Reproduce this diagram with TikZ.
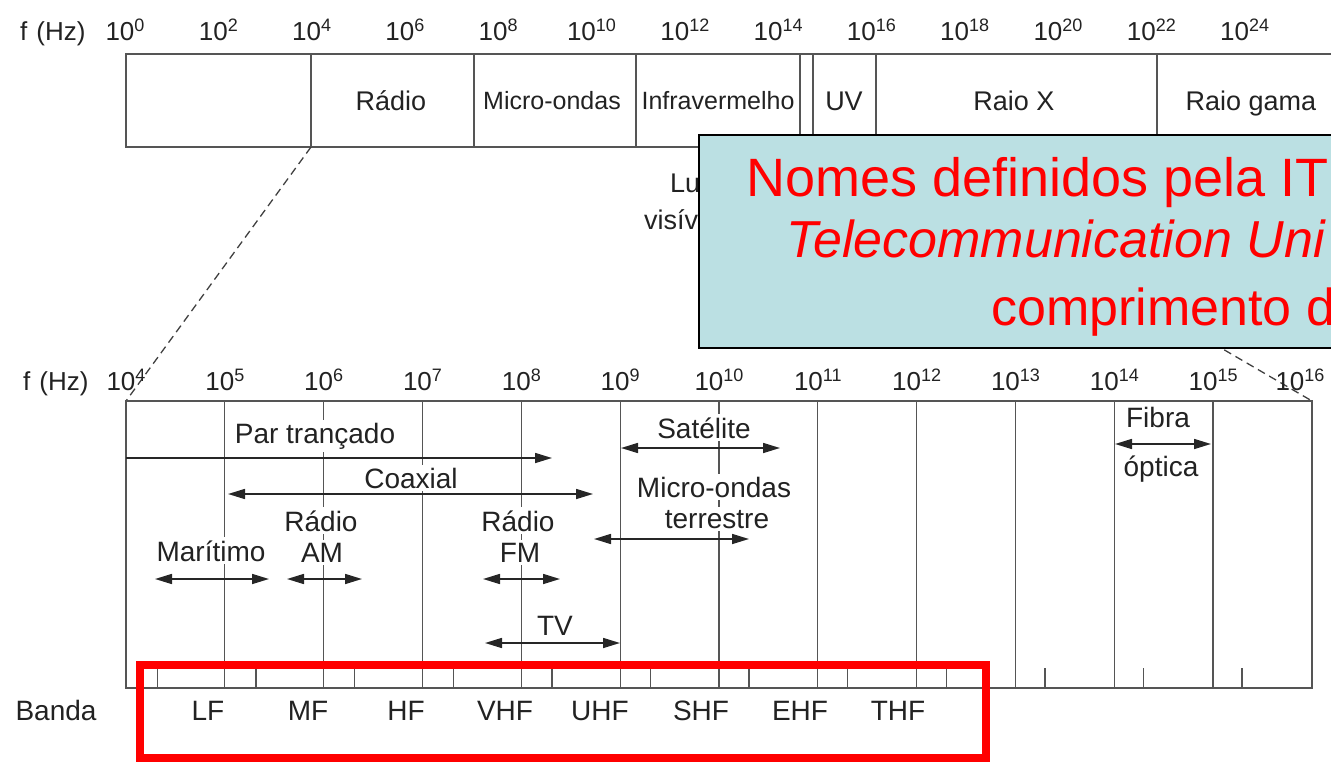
\documentclass[tikz,border=0pt]{standalone}
\usepackage{fontspec}
\setmainfont{Liberation Sans}
\usetikzlibrary{arrows.meta}
\definecolor{txt}{HTML}{222222}
\definecolor{ln}{HTML}{555555}
\definecolor{notebg}{RGB}{187,224,227}
\definecolor{notered}{RGB}{255,0,0}
\newcommand\pwr[1]{10\raisebox{9pt}{\fontsize{18}{18}\selectfont #1}}
\tikzset{
  fs/.style={font=\fontsize{#1}{#1}\selectfont},
  axl/.style={text=txt, fs=26, inner sep=0pt, anchor=base},
  boxl/.style={text=txt, fs=27, inner sep=0pt, anchor=base},
  chl/.style={text=txt, fs=28, fill=white, inner sep=3pt, anchor=base},
  bandl/.style={text=txt, fs=28, inner sep=0pt, anchor=base},
  grid/.style={draw=ln, line width=1.3pt},
  zoomline/.style={draw=black!75, line width=1.3pt, dash pattern=on 8pt off 5pt},
  dbl/.style={draw=black!85, line width=1.6pt, {Triangle[length=17pt,width=10pt]}-{Triangle[length=17pt,width=10pt]}},
  sgl/.style={draw=black!85, line width=1.6pt, -{Triangle[length=17pt,width=10pt]}},
  notebox/.style={draw=black, line width=2pt, fill=notebg},
  notetxt/.style={text=notered, fs=52, anchor=base west, inner sep=0pt},
  redframe/.style={draw=notered, line width=8pt},
}
\begin{document}
\begin{tikzpicture}[x=1pt,y=-1pt]
\useasboundingbox (0,0) rectangle (1331,762);
\clip (0,0) rectangle (1331,762);

% ---------- top spectrum ----------
\node[axl, anchor=base west] (fhz1) at (20,41) {f\hspace{9pt}(Hz)};
\foreach \k in {0,...,12}{
  \pgfmathtruncatemacro\e{2*\k}
  \node[axl] (ta\k) at ({125+93.3*\k},41) {\pwr{\e}};
}
\draw[grid] (126,54) rectangle (1345,147);
\foreach \x in {311,474,636,800,813,876,1157}{
  \draw[grid] (\x,54) -- (\x,147);
}
\node[boxl] (radio) at (391,111) {Rádio};
\node[boxl, fs=25] (micro) at (552,110) {Micro-ondas};
\node[boxl, fs=25] (infra) at (718,110) {Infravermelho};
\node[boxl] (uv) at (844,111) {UV};
\node[boxl] (raiox) at (1014,111) {Raio X};
\node[boxl] (gama) at (1251,111) {Raio gama};
\node[boxl, anchor=base west] (luz) at (670,193) {Luz};
\node[boxl, anchor=base west] (visivel) at (644,230) {visível};

% ---------- zoom lines ----------
\coordinate (zt1) at (311,147);
\coordinate (zb1) at (126,401);
\coordinate (zt2) at (876,147);
\coordinate (zb2) at (1312,401);
\draw[zoomline] (zt1) -- (zb1);
\draw[zoomline] (zt2) -- (zb2);

% ---------- lower chart ----------
\node[axl, anchor=base west] (fhz2) at (23,390) {f\hspace{9pt}(Hz)};
\foreach \n in {4,...,15}{
  \node[axl] (ba\n) at ({126+98.83*(\n-4)},390) {\pwr{\n}};
}
\node[axl] (ba16) at (1300,390) {\pwr{16}};

\draw[grid] (126,401) rectangle (1312,688);
\foreach \n in {5,...,15}{
  \draw[grid] ({126+98.83*(\n-4)},401) -- ({126+98.83*(\n-4)},688);
}
\foreach \k in {0,...,11}{
  \draw[grid] ({157.5+98.6*\k},668) -- ({157.5+98.6*\k},688);
}

% labels (white knock-out)
\node[chl] (par) at (315,443) {Par trançado};
\node[chl] (coax) at (411,488) {Coaxial};
\node[chl] (mar) at (211,561) {Marítimo};
\node[chl] (amr) at (321,531) {Rádio};
\node[chl] (am) at (322,562) {AM};
\node[chl] (fmr) at (518,531) {Rádio};
\node[chl] (fm) at (520,562) {FM};
\node[chl] (tv) at (555,635) {TV};
\node[chl] (sat) at (704,438) {Satélite};
\node[chl] (mo) at (714,497) {Micro-ondas};
\node[chl] (terr) at (717,528) {terrestre};
\node[chl] (fibra) at (1158,427) {Fibra};
\node[chl] (optica) at (1161,476) {óptica};

% arrows
\coordinate (parL) at (126,458);   \coordinate (parR) at (552,458);
\coordinate (coaxL) at (228,494);  \coordinate (coaxR) at (593,494);
\coordinate (marL) at (155,579);   \coordinate (marR) at (269,579);
\coordinate (amL) at (287,579);    \coordinate (amR) at (362,579);
\coordinate (fmL) at (483,579);    \coordinate (fmR) at (560,579);
\coordinate (tvL) at (485,643);    \coordinate (tvR) at (620,643);
\coordinate (satL) at (621,448);   \coordinate (satR) at (780,448);
\coordinate (mtL) at (594,539);    \coordinate (mtR) at (749,539);
\coordinate (fibL) at (1115,444);  \coordinate (fibR) at (1211,444);
\draw[sgl] (parL) -- (parR);
\draw[dbl] (coaxL) -- (coaxR);
\draw[dbl] (marL) -- (marR);
\draw[dbl] (amL) -- (amR);
\draw[dbl] (fmL) -- (fmR);
\draw[dbl] (tvL) -- (tvR);
\draw[dbl] (satL) -- (satR);
\draw[dbl] (mtL) -- (mtR);
\draw[dbl] (fibL) -- (fibR);

% band names
\node[bandl] (banda) at (56,720) {Banda};
\node[bandl] (lf) at (208,720) {LF};
\node[bandl] (mf) at (308,720) {MF};
\node[bandl] (hf) at (406,720) {HF};
\node[bandl] (vhf) at (505,720) {VHF};
\node[bandl] (uhf) at (600,720) {UHF};
\node[bandl] (shf) at (701,720) {SHF};
\node[bandl] (ehf) at (800,720) {EHF};
\node[bandl] (thf) at (898,720) {THF};

% ---------- note box ----------
\draw[notebox] (699,135) rectangle (1345,348);
\node[notetxt, fs=54] (n1) at (746,197) {Nomes definidos pela IT};
\node[notetxt, font=\fontsize{52}{52}\selectfont\itshape] (n2) at (786,258) {Telecommunication Uni};
\node[notetxt] (n3) at (991,325) {comprimento d};

% ---------- red frame ----------
\draw[redframe] (140,664.5) rectangle (986,758);
\end{tikzpicture}
\end{document}
